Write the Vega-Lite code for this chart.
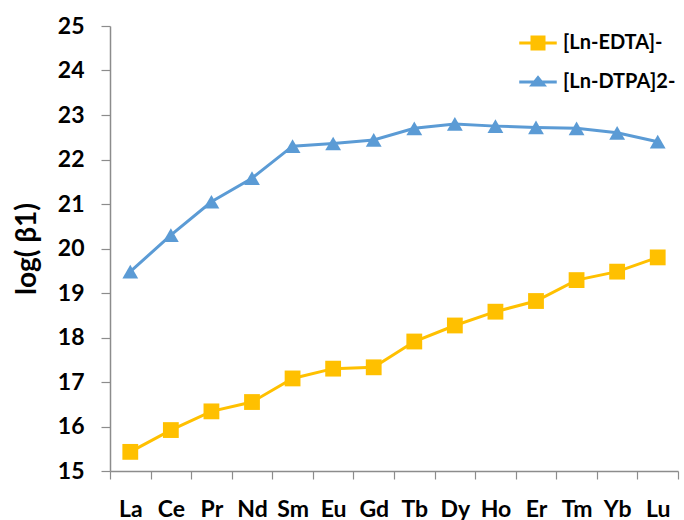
{
  "$schema": "https://vega.github.io/schema/vega-lite/v6.json",
  "width": 568,
  "height": 445,
  "autosize": {"type": "none"},
  "padding": {"left": 110, "top": 26, "right": 6, "bottom": 49},
  "background": "white",
  "config": {
    "view": {"stroke": null},
    "font": "Lato"
  },
  "data": {
    "values": [
      {"el": "La", "series": "[Ln-EDTA]-", "v": 15.43},
      {"el": "Ce", "series": "[Ln-EDTA]-", "v": 15.92},
      {"el": "Pr", "series": "[Ln-EDTA]-", "v": 16.34},
      {"el": "Nd", "series": "[Ln-EDTA]-", "v": 16.55},
      {"el": "Sm", "series": "[Ln-EDTA]-", "v": 17.08},
      {"el": "Eu", "series": "[Ln-EDTA]-", "v": 17.30},
      {"el": "Gd", "series": "[Ln-EDTA]-", "v": 17.33},
      {"el": "Tb", "series": "[Ln-EDTA]-", "v": 17.91},
      {"el": "Dy", "series": "[Ln-EDTA]-", "v": 18.27},
      {"el": "Ho", "series": "[Ln-EDTA]-", "v": 18.58},
      {"el": "Er", "series": "[Ln-EDTA]-", "v": 18.82},
      {"el": "Tm", "series": "[Ln-EDTA]-", "v": 19.29},
      {"el": "Yb", "series": "[Ln-EDTA]-", "v": 19.48},
      {"el": "Lu", "series": "[Ln-EDTA]-", "v": 19.80},
      {"el": "La", "series": "[Ln-DTPA]2-", "v": 19.48},
      {"el": "Ce", "series": "[Ln-DTPA]2-", "v": 20.30},
      {"el": "Pr", "series": "[Ln-DTPA]2-", "v": 21.05},
      {"el": "Nd", "series": "[Ln-DTPA]2-", "v": 21.58},
      {"el": "Sm", "series": "[Ln-DTPA]2-", "v": 22.30},
      {"el": "Eu", "series": "[Ln-DTPA]2-", "v": 22.36},
      {"el": "Gd", "series": "[Ln-DTPA]2-", "v": 22.44},
      {"el": "Tb", "series": "[Ln-DTPA]2-", "v": 22.70},
      {"el": "Dy", "series": "[Ln-DTPA]2-", "v": 22.80},
      {"el": "Ho", "series": "[Ln-DTPA]2-", "v": 22.75},
      {"el": "Er", "series": "[Ln-DTPA]2-", "v": 22.72},
      {"el": "Tm", "series": "[Ln-DTPA]2-", "v": 22.70},
      {"el": "Yb", "series": "[Ln-DTPA]2-", "v": 22.60},
      {"el": "Lu", "series": "[Ln-DTPA]2-", "v": 22.40}
    ]
  },
  "encoding": {
    "x": {
      "field": "el",
      "type": "nominal",
      "sort": ["La", "Ce", "Pr", "Nd", "Sm", "Eu", "Gd", "Tb", "Dy", "Ho", "Er", "Tm", "Yb", "Lu"],
      "scale": {"type": "band", "paddingInner": 0, "paddingOuter": 0},
      "axis": {
        "title": null,
        "labelAngle": 0,
        "labelFont": "Lato",
        "labelFontWeight": "bold",
        "labelFontSize": 23,
        "labelColor": "#000000",
        "labelPadding": 19,
        "tickBand": "extent",
        "tickSize": 8,
        "tickColor": "#8c8c8c",
        "domainColor": "#8c8c8c",
        "domainWidth": 1.5,
        "tickWidth": 1.2,
        "grid": false
      }
    },
    "y": {
      "field": "v",
      "type": "quantitative",
      "scale": {"domain": [15, 25], "nice": false, "zero": false},
      "axis": {
        "title": "log( β1)",
        "titleFont": "Lato",
        "titleFontWeight": "bold",
        "titleFontSize": 28,
        "titleColor": "#000000",
        "titlePadding": 16,
        "values": [15, 16, 17, 18, 19, 20, 21, 22, 23, 24, 25],
        "labelFont": "Lato",
        "labelFontWeight": "bold",
        "labelFontSize": 23,
        "labelColor": "#000000",
        "labelPadding": 17,
        "tickSize": 9,
        "tickColor": "#8c8c8c",
        "domainColor": "#8c8c8c",
        "domainWidth": 1.5,
        "tickWidth": 1.2,
        "grid": false
      }
    },
    "color": {
      "field": "series",
      "type": "nominal",
      "scale": {"domain": ["[Ln-EDTA]-", "[Ln-DTPA]2-"], "range": ["#FFC000", "#5B9BD5"]},
      "legend": {
        "title": null,
        "orient": "none",
        "legendX": 418,
        "legendY": 7,
        "padding": 0,
        "symbolSize": 225,
        "symbolOpacity": 1,
        "symbolStrokeWidth": 0,
        "labelFont": "Lato",
        "labelFontSize": 20,
        "labelFontWeight": "bold",
        "labelColor": "#000000",
        "labelOffset": 15,
        "rowPadding": 19
      }
    }
  },
  "layer": [
    {
      "mark": {"type": "line", "strokeWidth": 3}
    },
    {
      "mark": {"type": "point", "filled": true, "opacity": 1, "size": 250},
      "encoding": {
        "shape": {
          "condition": {"test": "datum.series === '[Ln-EDTA]-'", "value": "square"},
          "value": "triangle-up"
        }
      }
    },
    {
      "transform": [{"filter": "false"}],
      "mark": {"type": "point", "filled": true, "opacity": 1},
      "encoding": {
        "shape": {
          "field": "series",
          "type": "nominal",
          "scale": {
            "domain": ["[Ln-EDTA]-", "[Ln-DTPA]2-"],
            "range": ["M-2.5,-0.2H2.5V0.2H-2.5Z M-1,-1H1V1H-1Z", "M-2.5,-0.2H2.5V0.2H-2.5Z M0,-0.9L1.2,0.6H-1.2Z"]
          },
          "legend": {
            "title": null,
            "orient": "none",
            "legendX": 418,
            "legendY": 7,
            "padding": 0,
            "symbolSize": 225,
            "symbolOpacity": 1,
            "symbolStrokeWidth": 0,
            "labelFont": "Lato",
            "labelFontSize": 20,
            "labelFontWeight": "bold",
            "labelColor": "#000000",
            "labelOffset": 15,
            "rowPadding": 19
          }
        }
      }
    }
  ]
}
